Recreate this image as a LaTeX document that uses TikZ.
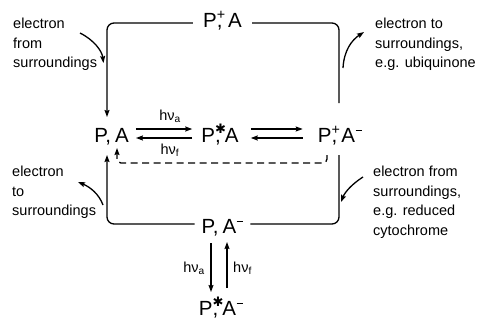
\documentclass[tikz,border=0pt]{standalone}
\usepackage{fontspec}
\setmainfont{Liberation Sans}
\newfontfamily\dejavu{DejaVu Sans}
\usetikzlibrary{arrows.meta}
\newcommand\oversup[1]{\rlap{\textsuperscript{#1}}}
\newcommand\starsup{\rlap{\raisebox{0.42em}{\fontsize{13}{13}\selectfont\dejavu ✱}}}
\newcommand\minsup{\textsuperscript{\kern0.5pt\rule[0.25em]{0.42em}{0.09em}}}
\newcommand\plussup{\oversup{+}}
\begin{document}
\begin{tikzpicture}[x=1pt,y=-1pt,
  state/.style={font=\fontsize{20.5}{24}\selectfont, inner sep=0pt, anchor=base},
  lbl/.style={font=\fontsize{14.5}{19.5}\selectfont, align=left, inner sep=0pt, anchor=north west},
  hnu/.style={font=\fontsize{14.5}{16}\selectfont, inner sep=0pt},
  ln/.style={line width=1.3pt},
  tip/.style={-{Stealth[length=7pt,width=5pt,inset=1pt]}},
  arr/.style={ln, tip},
  curvedarr/.style={line width=1.3pt, tip}
]
\useasboundingbox (0,0) rectangle (487,322);

% states
\node[state] (top)  at (222.5,27) {P\plussup, A};
\node[state] (pa)   at (111.5,142) {P,\hspace{0.2em}A};
\node[state] (psa)  at (220,142) {P\starsup,\hspace{0.2em}A};
\node[state] (ppam) at (340,142) {P\plussup,\hspace{0.2em}A\minsup};
\node[state] (pam)  at (222.5,233) {P,\hspace{0.2em}A\minsup};
\node[state] (psam) at (221,315) {P\starsup,\hspace{0.2em}A\minsup};

% corners of the cycle
\coordinate (tl) at (107,23);
\coordinate (tr) at (339,23);
\coordinate (bl) at (107,224);
\coordinate (br) at (339,224);

% outer cycle
\draw[arr, rounded corners=7pt] ([xshift=-10pt]top.west |- tl) -- (tl) -- ([yshift=25pt]tl |- pa.base);
\draw[ln, rounded corners=7pt] ([xshift=10pt]top.east |- tr) -- (tr) -- ([yshift=39pt]tr |- ppam.base);
\draw[arr, rounded corners=7pt] ([xshift=-7pt]pam.west |- bl) -- (bl) -- ([yshift=-13pt]bl |- pa.base);
\draw[ln, rounded corners=7pt] ([xshift=7pt]pam.east |- br) -- (br) -- ([yshift=-13pt]br |- ppam.base);

% equilibria in the middle row
\draw[arr] ([xshift=7pt,yshift=13pt]pa.base east) -- ([xshift=-9pt,yshift=13pt]psa.base west);
\draw[arr] ([xshift=-9pt,yshift=4pt]psa.base west) -- ([xshift=7pt,yshift=4pt]pa.base east);
\draw[arr] ([xshift=12pt,yshift=13pt]psa.base east) -- ([xshift=-15pt,yshift=13pt]ppam.base west);
\draw[arr] ([xshift=-15pt,yshift=4pt]ppam.base west) -- ([xshift=12pt,yshift=4pt]psa.base east);

\node[hnu] (ha1) at (170,116) {hν\textsubscript{a}};
\node[hnu] (hf1) at (170,150) {hν\textsubscript{f}};

% dashed recombination
\draw[arr, dash pattern=on 7pt off 4.5pt, rounded corners=4pt]
  ([xshift=-13pt,yshift=-13pt]ppam.base) -- ([xshift=-13pt,yshift=-21pt]ppam.base)
  -- ([xshift=5.5pt,yshift=-21pt]pa.base) -- ([xshift=5.5pt,yshift=-6pt]pa.base);

% bottom excitation
\draw[arr] ([xshift=-11.5pt,yshift=-10pt]pam.base) -- ([xshift=-10pt,yshift=23pt]psam.base);
\draw[arr] ([xshift=6pt,yshift=27pt]psam.base) -- ([xshift=4.5pt,yshift=-9pt]pam.base);
\node[hnu, anchor=east] (ha2) at (205,268) {hν\textsubscript{a}};
\node[hnu, anchor=west] (hf2) at (233,268) {hν\textsubscript{f}};

% side labels
\node[lbl] (l1) at (13,18) {electron\\from\\surroundings};
\node[lbl] (l2) at (375,18) {electron to\\surroundings,\\ e.g. ubiquinone};
\node[lbl] (l3) at (12,166) {electron\\to\\surroundings};
\node[lbl] (l4) at (373,166) {electron from\\surroundings,\\e.g. reduced\\cytochrome};

% curved electron arrows
\coordinate (a1s) at (80,33);  \coordinate (a1e) at (103.5,63);
\coordinate (a2s) at (343,68); \coordinate (a2e) at (364,32);
\coordinate (a3s) at (103,205); \coordinate (a3e) at (78,182);
\coordinate (a4s) at (363,177); \coordinate (a4e) at (341,202);
\draw[curvedarr] (a1s) .. controls (94,40) and (102,51) .. (a1e);
\draw[curvedarr] (a2s) .. controls (344,50) and (352,40) .. (a2e);
\draw[curvedarr] (a3s) .. controls (99,194) and (90,187) .. (a3e);
\draw[curvedarr] (a4s) .. controls (352,184) and (345,192) .. (a4e);
\end{tikzpicture}
\end{document}
